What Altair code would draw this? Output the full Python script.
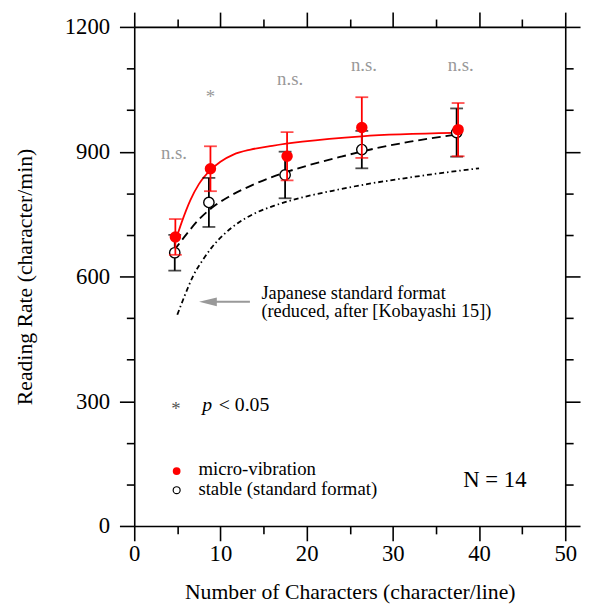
import altair as alt
import pandas as pd

FONT = "Liberation Serif"

# ---------------- data ----------------
# micro-vibration (red, filled)
mv_chars = [4.77, 8.84, 17.73, 26.4, 37.57]
mv_rate = [695, 859, 889, 958, 953]
mv_err = [43, 54, 58, 73, 64]

# stable (standard format) (black, open)
st_chars = [4.7, 8.66, 17.5, 26.4, 37.4]
st_rate = [657, 778, 844, 905, 946]
st_err = [43, 59, 56, 45, 58]

# fitted curves
fit_mv_x = [4.7, 5.5, 6.5, 7.5, 8.8, 10.0, 11.5, 13.5, 16.0, 19.5, 26.4, 37.1]
fit_mv_y = [680, 730, 783, 822, 855, 876, 893, 905, 914, 924, 937, 945]
fit_st_x = [4.6, 6.0, 7.5, 9.0, 11.0, 13.5, 16.5, 20.0, 24.0, 28.0, 32.0, 37.0]
fit_st_y = [662, 700, 737, 765, 792, 818, 843, 866, 888, 908, 924, 940]
jp_x = [5.0, 5.8, 6.9, 8.0, 9.0, 10.5, 12.0, 14.0, 16.5, 19.5, 23.0, 27.0, 31.0, 35.0, 40.0]
jp_y = [508, 551, 604, 641, 670, 703, 728, 752, 772, 790, 806, 822, 835, 847, 860]

# significance labels
sig_x = [4.6, 8.85, 18.08, 26.64, 37.87]
sig_y = [883, 1017, 1061, 1095, 1095]
sig_text = ["n.s.", "*", "n.s.", "n.s.", "n.s."]

x_ticks = list(range(0, 51, 5))
y_ticks = list(range(0, 1201, 100))

# ---------------- tables ----------------
mv = pd.DataFrame({"x": mv_chars, "y": mv_rate,
                   "lo": [r - e for r, e in zip(mv_rate, mv_err)],
                   "hi": [r + e for r, e in zip(mv_rate, mv_err)]})
st = pd.DataFrame({"x": st_chars, "y": st_rate,
                   "lo": [r - e for r, e in zip(st_rate, st_err)],
                   "hi": [r + e for r, e in zip(st_rate, st_err)]})
fit_mv = pd.DataFrame({"x": fit_mv_x, "y": fit_mv_y})
fit_st = pd.DataFrame({"x": fit_st_x, "y": fit_st_y})
jp = pd.DataFrame({"x": jp_x, "y": jp_y})
sig = pd.DataFrame({"x": sig_x, "y": sig_y, "t": sig_text})

XS = alt.Scale(domain=[0, 50], nice=False, zero=False)
YS = alt.Scale(domain=[0, 1200], nice=False, zero=False)

x_cond = {"condition": {"test": "datum.value % 10 === 0", "value": 15}, "value": 8}
y_cond = {"condition": {"test": "datum.value % 300 === 0", "value": 15}, "value": 8}

x_bottom = alt.Axis(orient="bottom", values=x_ticks, tickSize=x_cond, format="d",
                    labelExpr="datum.value % 10 === 0 ? datum.label : ''",
                    labelFontSize=23, labelPadding=2, labelFlush=False, labelOverlap=False,
                    title="Number of Characters (character/line)", titleFontSize=22,
                    titlePadding=17, grid=False)
y_left = alt.Axis(orient="left", values=y_ticks, tickSize=y_cond, format="d",
                  labelExpr="datum.value % 300 === 0 ? datum.label : ''",
                  labelFontSize=23, labelPadding=10, labelFlush=False, labelOverlap=False,
                  title="Reading Rate (character/min)", titleFontSize=22,
                  titlePadding=28, grid=False)
x_top = alt.Axis(orient="top", values=x_ticks, tickSize=x_cond, labels=False,
                 title=None, grid=False)
y_right = alt.Axis(orient="right", values=y_ticks, tickSize=y_cond, labels=False,
                   title=None, grid=False)


def X(field="x", axis=None):
    return alt.X(f"{field}:Q", scale=XS, axis=axis)


def Y(field="y", axis=None):
    return alt.Y(f"{field}:Q", scale=YS, axis=axis)


# curves
jp_line = alt.Chart(jp).mark_line(color="black", strokeWidth=1.8, strokeDash=[5, 3, 1.5, 3],
                                  interpolate="monotone").encode(
    x=X(axis=x_bottom), y=Y(axis=y_left))
st_line = alt.Chart(fit_st).mark_line(color="black", strokeWidth=1.9, strokeDash=[9, 5],
                                      interpolate="monotone").encode(x=X(), y=Y())
mv_line = alt.Chart(fit_mv).mark_line(color="red", strokeWidth=1.8,
                                      interpolate="monotone").encode(x=X(), y=Y())

# frame axes (top/right)
frame = alt.Chart(mv).mark_point(opacity=0).encode(x=X(axis=x_top), y=Y(axis=y_right))


def bars(df, color):
    rule = alt.Chart(df).mark_rule(color=color, strokeWidth=1.8).encode(
        x=X(), y=Y("lo"), y2="hi")
    cap_lo = alt.Chart(df).mark_tick(color=color, orient="horizontal", size=13,
                                     thickness=1.8).encode(x=X(), y=Y("lo"))
    cap_hi = alt.Chart(df).mark_tick(color=color, orient="horizontal", size=13,
                                     thickness=1.8).encode(x=X(), y=Y("hi"))
    return [rule, cap_lo, cap_hi]


st_pts = alt.Chart(st).mark_point(shape="circle", filled=True, fill="white", stroke="black",
                                  strokeWidth=1.4, size=110, opacity=1).encode(x=X(), y=Y())
mv_pts = alt.Chart(mv).mark_point(shape="circle", filled=True, color="red",
                                  size=135, opacity=1).encode(x=X(), y=Y())

sig_txt = alt.Chart(sig).mark_text(font=FONT, fontSize=19, color="#999999",
                                   align="center", baseline="alphabetic").encode(
    x=X(), y=Y(), text="t:N")

# legend
leg_pts_mv = alt.Chart(pd.DataFrame({"x": [4.92], "y": [132]})).mark_point(
    shape="circle", filled=True, color="red", size=62, opacity=1).encode(x=X(), y=Y())
leg_pts_st = alt.Chart(pd.DataFrame({"x": [4.92], "y": [86]})).mark_point(
    shape="circle", filled=True, fill="white", stroke="black", strokeWidth=1.2,
    size=50, opacity=1).encode(x=X(), y=Y())
leg_txt = alt.Chart(pd.DataFrame({"x": [7.44], "y": [121.6],
                                  "t": ["micro-vibration\nstable (standard format)"]})
                    ).mark_text(font=FONT, fontSize=19, color="black", align="left",
                                baseline="alphabetic", lineBreak="\n", lineHeight=20
                                ).encode(x=X(), y=Y(), text="t:N")

n_txt = alt.Chart(pd.DataFrame({"x": [41.84], "y": [94], "t": ["N = 14"]})).mark_text(
    font=FONT, fontSize=23, color="black", align="center", baseline="alphabetic").encode(
    x=X(), y=Y(), text="t:N")

p_star = alt.Chart(pd.DataFrame({"x": [4.84], "y": [266], "t": ["*"]})).mark_text(
    font=FONT, fontSize=19, color="#555555", align="center", baseline="alphabetic").encode(
    x=X(), y=Y(), text="t:N")
p_it = alt.Chart(pd.DataFrame({"x": [7.9], "y": [276.7], "t": ["p"]})).mark_text(
    font=FONT, fontSize=20, fontStyle="italic", color="black", align="left",
    baseline="alphabetic").encode(x=X(), y=Y(), text="t:N")
p_val = alt.Chart(pd.DataFrame({"x": [9.8], "y": [276.7], "t": ["< 0.05"]})).mark_text(
    font=FONT, fontSize=20, color="black", align="left", baseline="alphabetic").encode(
    x=X(), y=Y(), text="t:N")

ann = alt.Chart(pd.DataFrame({"x": [14.76], "y": [545.6],
                              "t": ["\u00a0Japanese standard format\n"
                                    "(reduced, after [Kobayashi 15])"]})).mark_text(
    font=FONT, fontSize=18.5, color="black", align="left", baseline="alphabetic",
    lineBreak="\n", lineHeight=18.5).encode(x=X(), y=Y(), text="t:N")

arrow_line = alt.Chart(pd.DataFrame({"x": [9.0], "x2": [13.42], "y": [539]})).mark_rule(
    color="#999999", strokeWidth=2).encode(x=X(), x2="x2", y=Y())
arrow_head = alt.Chart(pd.DataFrame({"x": [7.52], "y": [539]})).mark_point(
    shape="M0,0L2,-0.5L2,0.5Z", filled=True, color="#999999", size=324, opacity=1).encode(
    x=X(), y=Y())

layers = [jp_line, frame, st_line, mv_line] + bars(st, "black") + [st_pts] + \
    bars(mv, "red") + [mv_pts, sig_txt, leg_pts_mv, leg_pts_st, leg_txt, n_txt,
                       p_star, p_it, p_val, ann, arrow_line, arrow_head]

chart = alt.layer(*layers).resolve_axis(x="independent", y="independent").properties(
    width=437, height=506,
    autosize=alt.AutoSizeParams(type="none"),
    padding={"left": 128, "top": 15, "right": 18, "bottom": 80},
).configure_view(stroke=None).configure_axis(
    domainColor="black", tickColor="black", domainWidth=1.6, tickWidth=1.6,
    labelFont=FONT, titleFont=FONT, labelColor="black", titleColor="black",
    titleFontWeight="normal",
)

chart.save("out.html", embed_options={"renderer": "svg", "actions": False})
